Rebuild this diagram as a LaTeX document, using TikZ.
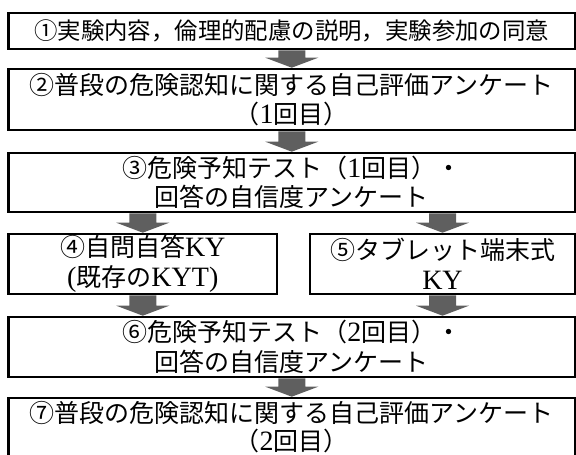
\documentclass[tikz,border=0pt]{standalone}
\usepackage{fontspec}
\setmainfont{Noto Sans CJK JP}
\newfontfamily\lat{Liberation Serif}[Scale=1.12]
\usetikzlibrary{calc}
\pgfdeclarelayer{background}
\pgfsetlayers{background,main}
\definecolor{arrowgray}{HTML}{5F5F5F}
\tikzset{
  box/.style={draw=black, line width=2.6pt, fill=white, inner sep=0pt, align=center,
    font=\fontsize{25}{29.5}\selectfont},
}
\newcommand\blockarr[2]{%
  \begin{pgfonlayer}{background}
  \path let \p1=(#1), \p2=(#2) in [fill=arrowgray]
    (\x2-13.5pt,\y1) -- (\x2+13.5pt,\y1) -- (\x2+13.5pt,\y2+10pt) -- (\x2+26.5pt,\y2+10pt)
    -- (\x2,\y2) -- (\x2-26.5pt,\y2+10pt) -- (\x2-13.5pt,\y2+10pt) -- cycle;
  \end{pgfonlayer}}
\begin{document}
\begin{tikzpicture}[x=1pt,y=-1pt]
\useasboundingbox (0,0) rectangle (576,455);
\node[box, minimum width=566.5pt, minimum height=36pt, font=\fontsize{23.4}{28}\selectfont] (b1) at (291.75,31)
  {①実験内容，倫理的配慮の説明，実験参加の同意};
\node[box, minimum width=566.5pt, minimum height=61pt] (b2) at (291.75,99.5)
  {②普段の危険認知に関する自己評価アンケート\\（{\lat 1}回目）};
\node[box, minimum width=566.5pt, minimum height=59pt] (b3) at (291.75,182.5)
  {③危険予知テスト（{\lat 1}回目）・\\回答の自信度アンケート};
\node[box, minimum width=268.5pt, minimum height=60pt] (b4) at (142.75,264)
  {④自問自答{\lat KY}\\{\lat (}既存の{\lat KYT)}};
\node[box, minimum width=265pt, minimum height=60pt] (b5) at (442.5,264)
  {⑤タブレット端末式\\{\lat KY}};
\node[box, minimum width=566.5pt, minimum height=60pt] (b6) at (291.75,347)
  {⑥危険予知テスト（{\lat 2}回目）・\\回答の自信度アンケート};
\node[box, minimum width=566.5pt, minimum height=58pt, font=\fontsize{25}{28.5}\selectfont] (b7) at (291.75,427)
  {⑦普段の危険認知に関する自己評価アンケート\\（{\lat 2}回目）};
\blockarr{b1.south}{b2.north}
\blockarr{b2.south}{b3.north}
\blockarr{b3.south -| b4.north}{b4.north}
\blockarr{b3.south -| b5.north}{b5.north}
\blockarr{b4.south}{b4.south |- b6.north}
\blockarr{b5.south}{b5.south |- b6.north}
\blockarr{b6.south}{b7.north}
\end{tikzpicture}
\end{document}
